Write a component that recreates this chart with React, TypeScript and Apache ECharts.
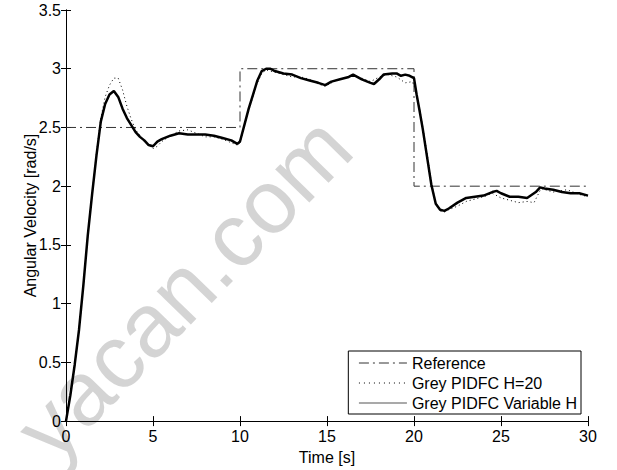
import React, { useEffect, useRef } from "react";
import * as echarts from "echarts";

const xTicks = [0, 5, 10, 15, 20, 25, 30];
const yTicks = [0, 0.5, 1, 1.5, 2, 2.5, 3, 3.5];

const refT = [0, 10, 10, 20, 20, 30];
const refV = [2.5, 2.5, 3, 3, 2, 2];

const varT = [0, 0.25, 0.5, 0.75, 1, 1.25, 1.5, 1.75, 2, 2.25, 2.5, 2.75, 3, 3.25, 3.5, 3.75, 4, 4.25, 4.5, 4.75, 5, 5.25, 5.5, 6, 6.5, 7, 7.5, 8, 8.5, 9, 9.5, 9.85, 10, 10.25, 10.5, 10.75, 11, 11.25, 11.5, 11.75, 12, 12.5, 13, 13.5, 14, 14.5, 14.9, 15.25, 15.75, 16.25, 16.5, 17, 17.5, 17.7, 18, 18.25, 18.75, 19, 19.25, 19.5, 19.75, 20, 20.15, 20.3, 20.5, 20.75, 21, 21.25, 21.5, 21.75, 22, 22.5, 23, 23.5, 24, 24.5, 24.75, 25, 25.5, 26, 26.5, 27, 27.25, 27.5, 28, 28.5, 29, 29.5, 30];
const varV = [0, 0.22, 0.48, 0.78, 1.16, 1.58, 1.93, 2.26, 2.55, 2.7, 2.78, 2.81, 2.76, 2.66, 2.58, 2.52, 2.46, 2.42, 2.39, 2.35, 2.34, 2.38, 2.4, 2.43, 2.45, 2.44, 2.44, 2.44, 2.43, 2.41, 2.39, 2.36, 2.38, 2.52, 2.66, 2.78, 2.9, 2.98, 3.0, 3.0, 2.98, 2.96, 2.95, 2.92, 2.9, 2.88, 2.86, 2.89, 2.91, 2.93, 2.95, 2.91, 2.88, 2.87, 2.91, 2.95, 2.96, 2.96, 2.94, 2.95, 2.94, 2.92, 2.78, 2.66, 2.49, 2.25, 2.01, 1.85, 1.8, 1.79, 1.81, 1.86, 1.9, 1.91, 1.92, 1.95, 1.96, 1.94, 1.91, 1.91, 1.9, 1.95, 1.99, 1.98, 1.97, 1.95, 1.94, 1.94, 1.92];

const h20T = [0, 0.25, 0.5, 0.75, 1, 1.25, 1.5, 1.75, 2, 2.25, 2.5, 2.75, 3, 3.25, 3.5, 3.75, 4, 4.5, 5, 5.25, 5.5, 6, 6.5, 7, 7.5, 8, 8.5, 9, 9.5, 9.85, 10, 10.25, 10.5, 10.75, 11, 11.25, 11.5, 12, 12.5, 13, 13.5, 14, 14.5, 14.9, 15.5, 16, 16.5, 17, 17.5, 18, 18.5, 19, 19.5, 19.9, 20.1, 20.3, 20.5, 20.75, 21, 21.25, 21.5, 21.75, 22, 22.5, 23, 23.5, 24, 24.5, 25, 25.5, 26, 26.5, 26.9, 27.3, 28, 28.8, 29.5, 30];
const h20V = [0, 0.22, 0.48, 0.78, 1.16, 1.58, 1.94, 2.28, 2.58, 2.76, 2.86, 2.92, 2.92, 2.82, 2.68, 2.57, 2.48, 2.38, 2.32, 2.34, 2.38, 2.43, 2.47, 2.48, 2.45, 2.42, 2.42, 2.4, 2.37, 2.35, 2.37, 2.5, 2.64, 2.77, 2.88, 2.96, 2.99, 2.97, 2.95, 2.93, 2.93, 2.91, 2.87, 2.85, 2.9, 2.92, 2.94, 2.92, 2.89, 2.93, 2.95, 2.93, 2.88, 2.89, 2.82, 2.68, 2.51, 2.28, 2.03, 1.86, 1.79, 1.78, 1.8, 1.83, 1.87, 1.89, 1.91, 1.94, 1.9, 1.88, 1.86, 1.87, 1.86, 1.98, 1.95, 1.97, 1.93, 1.91];

const zip = (t: number[], v: number[]) => t.map((x, i) => [x, v[i]]);

const FONT = "Liberation Sans, Arial, Helvetica, sans-serif";
const FS = 16;

export default function App() {
  const ref = useRef<HTMLDivElement>(null);
  useEffect(() => {
    if (!ref.current) return;
    const chart = echarts.init(ref.current, undefined, { renderer: "svg" });
    const axisCommon = {
      axisLine: { show: true, lineStyle: { color: "#000", width: 1 } },
      axisTick: { show: true, inside: true, length: 5, lineStyle: { color: "#000" } },
      splitLine: { show: false },
    };
    chart.setOption({
      animation: false,
      backgroundColor: "#fff",
      textStyle: { fontFamily: FONT },
      grid: { left: 66, right: 29, top: 10, bottom: 48, containLabel: false },
      xAxis: [
        {
          type: "value", min: xTicks[0], max: xTicks[xTicks.length - 1], interval: 5,
          position: "bottom", ...axisCommon,
          axisLabel: { color: "#000", fontSize: FS, margin: 7, fontFamily: FONT },
          name: "Time [s]", nameLocation: "middle", nameGap: 24,
          nameTextStyle: { color: "#000", fontSize: FS, fontFamily: FONT },
        },
        {
          type: "value", min: 0, max: 30, interval: 5, position: "top", ...axisCommon,
          axisLabel: { show: false },
        },
      ],
      yAxis: [
        {
          type: "value", min: yTicks[0], max: yTicks[yTicks.length - 1], interval: 0.5,
          position: "left", ...axisCommon,
          axisLabel: { color: "#000", fontSize: FS, margin: 5, fontFamily: FONT },
          name: "Angular Velocity [rad/s]", nameLocation: "middle", nameGap: 28,
          nameMoveOverlap: false,
          nameTextStyle: { color: "#000", fontSize: FS, fontFamily: FONT },
        },
        {
          type: "value", min: 0, max: 3.5, interval: 0.5, position: "right", ...axisCommon,
          axisLabel: { show: false },
        },
      ],
      legend: {
        orient: "vertical",
        right: 36,
        bottom: 56,
        backgroundColor: "#fff",
        borderColor: "#000",
        borderWidth: 1,
        borderRadius: 0,
        padding: [4, 4, 3, 10],
        itemGap: 4,
        itemWidth: 48,
        itemHeight: 14,
        itemTextGap: 5,
        align: "left",
        itemStyle: { opacity: 0, color: "rgba(0,0,0,0)", borderWidth: 0 },
        textStyle: { color: "#000", fontSize: FS, fontFamily: FONT },
        data: [
          { name: "Reference", lineStyle: { color: "#333", width: 1, type: [10, 4, 2, 4] } },
          { name: "Grey PIDFC H=20", lineStyle: { color: "#000", width: 1, type: [1, 4] } },
          { name: "Grey PIDFC Variable H", lineStyle: { color: "#555", width: 1.2, type: "solid" } },
        ],
      },
      graphic: [
        {
          type: "text",
          x: 64,
          y: 475,
          rotation: 0.8,
          z: -10,
          silent: true,
          style: {
            text: "yacan.com",
            font: "90px Liberation Sans, Arial, sans-serif",
            fill: "rgba(160,160,160,0.45)",
            textAlign: "left",
            textVerticalAlign: "bottom",
          },
        },
      ],
      series: [
        {
          name: "Reference", type: "line", data: zip(refT, refV), showSymbol: false, symbol: "none",
          lineStyle: { color: "#333", width: 1, type: [10, 4, 2, 4] }, itemStyle: { color: "#333" }, z: 2,
        },
        {
          name: "Grey PIDFC Variable H", type: "line", data: zip(varT, varV), showSymbol: false, symbol: "none",
          lineStyle: { color: "#000", width: 2.5 }, itemStyle: { color: "#444" }, z: 3,
        },
        {
          name: "Grey PIDFC H=20", type: "line", data: zip(h20T, h20V), showSymbol: false, symbol: "none",
          lineStyle: { color: "#000", width: 1, type: [1, 3] }, itemStyle: { color: "#000" }, z: 4,
        },
      ],
    });
    return () => chart.dispose();
  }, []);
  return <div ref={ref} style={{ width: 617, height: 470, position: "fixed", left: 0, top: 0 }} />;
}
